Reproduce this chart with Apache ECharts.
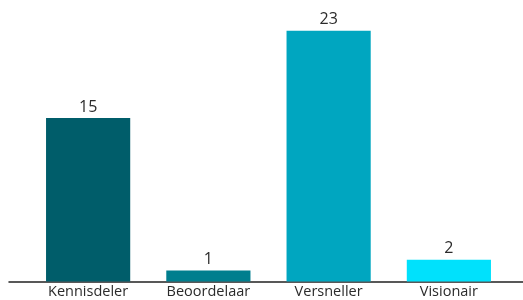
<!DOCTYPE html>
<html>
<head>
<meta charset="utf-8">
<script src="https://cdn.jsdelivr.net/npm/echarts@6/dist/echarts.min.js"></script>
<style>
  html, body { margin: 0; padding: 0; background: #fff; }
  #chart { width: 523px; height: 300px; }
</style>
</head>
<body>
<div id="chart"></div>
<script>
var categories = ['Kennisdeler', 'Beoordelaar', 'Versneller', 'Visionair'];
var values = [15, 1, 23, 2];
var barColors = ['#005d6a', '#007e8e', '#00a6c0', '#00e1fc'];

var dom = document.getElementById('chart');
var myChart = echarts.init(dom);
var fontName = '"Open Sans", "DejaVu Sans", sans-serif';

var option = {
  animation: false,
  grid: [
    { left: 28, right: 14, top: 9, bottom: 18.5 },
    // wider grid only for the long baseline
    { left: 9, right: 0, top: 9, bottom: 18.5 }
  ],
  xAxis: [{
    type: 'category',
    gridIndex: 0,
    data: categories,
    axisLine: { show: false },
    axisTick: { show: false },
    axisLabel: {
      color: '#2b2b2b',
      fontSize: 14.5,
      fontFamily: fontName,
      margin: 3
    }
  }, {
    type: 'value',
    gridIndex: 1,
    min: 0,
    max: 1,
    axisLine: { show: true, lineStyle: { color: '#222', width: 1.5 } },
    axisTick: { show: false },
    axisLabel: { show: false },
    splitLine: { show: false }
  }],
  yAxis: [{
    type: 'value',
    gridIndex: 0,
    min: 0,
    max: 25,
    show: false
  }, {
    type: 'value',
    gridIndex: 1,
    show: false
  }],
  series: [{
    type: 'bar',
    xAxisIndex: 0,
    yAxisIndex: 0,
    barWidth: '70%',
    data: values.map(function (v, i) {
      return { value: v, itemStyle: { color: barColors[i] } };
    }),
    label: {
      show: true,
      position: 'top',
      distance: 3,
      color: '#2b2b2b',
      fontSize: 16,
      fontFamily: fontName
    }
  }]
};
myChart.setOption(option);
</script>
</body>
</html>
